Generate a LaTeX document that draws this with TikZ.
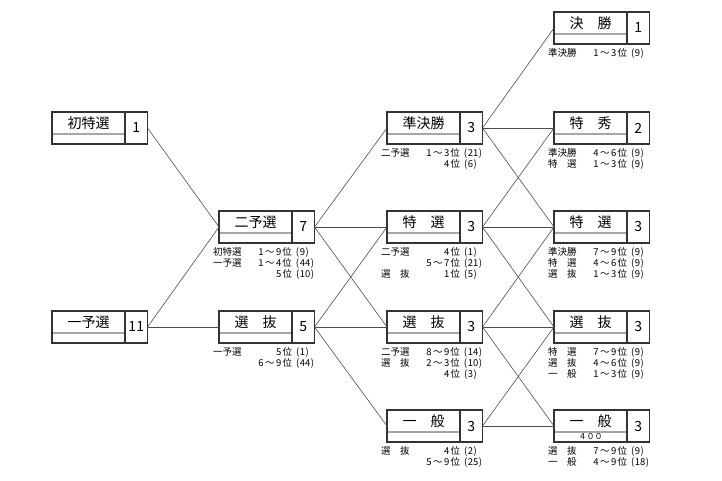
\documentclass[tikz,border=0pt]{standalone}
\usepackage{fontspec}
\setmainfont{Noto Sans CJK JP}
\usetikzlibrary{positioning}

\newcommand{\waku}[5]{%
  \node[namecell] (#1) at (#2,#3) {};
  \node[titletext] (#1-t) at ([yshift=-11pt]#1.north) {#4};
  \node[numcell, right=0pt of #1] (#1-n) {#5};
}
\newcommand{\kara}[2]{#1\kern1.5pt〜\kern1.5pt#2}
\newcommand{\jun}[3]{\makebox[27pt][l]{#1}\makebox[52pt][r]{#2\kern1pt 位}\hspace{4pt}(\kern0.6pt#3\kern0.6pt)}

\begin{document}
\begin{tikzpicture}[x=1pt, y=-1pt,
    every node/.style={inner sep=0pt, outer sep=0pt},
    namecell/.style={draw=black!80, line width=1.1pt, anchor=north west,
      minimum width=73pt, minimum height=32pt,
      path picture={\draw[black!35, line width=1.6pt]
        ([yshift=-22pt]path picture bounding box.north west) --
        ([yshift=-22pt]path picture bounding box.north east);}},
    numcell/.style={draw=black!80, line width=1.1pt, minimum width=22.5pt,
      minimum height=32pt, font=\fontsize{14}{14}\selectfont},
    titletext/.style={font=\fontsize{14}{14}\selectfont},
    lbl/.style={anchor=north west, align=left, font=\fontsize{9.5}{9.7}\selectfont},
    conn/.style={black!70, line width=0.6pt}]
  \useasboundingbox (0,0) rectangle (722,480);

  \waku{shotoku}{52}{112}{初特選}{1}
  \waku{ichiyo}{52}{311}{一予選}{11}
  \waku{niyo}{219}{211}{二予選}{7}
  \waku{senbatsu2}{219}{311}{選　抜}{5}
  \waku{junkessho}{387}{112}{準決勝}{3}
  \waku{tokusen3}{387}{211}{特　選}{3}
  \waku{senbatsu3}{387}{311}{選　抜}{3}
  \waku{ippan3}{387}{410}{一　般}{3}
  \waku{kessho}{554}{12}{決　勝}{1}
  \waku{tokushu}{554}{112}{特　秀}{2}
  \waku{tokusen4}{554}{211}{特　選}{3}
  \waku{senbatsu4}{554}{311}{選　抜}{3}
  \waku{ippan4}{554}{410}{一　般}{3}
  \node[font=\fontsize{8}{8}\selectfont] (ippan4-s) at ([yshift=-27pt]ippan4.north) {４００};

  \node[lbl] (niyo-l) at ([xshift=-6pt,yshift=-4.5pt]niyo.south west)
    {\jun{初特選}{\kara{1}{9}}{9}\\\jun{一予選}{\kara{1}{4}}{44}\\\jun{}{5}{10}};
  \node[lbl] (senbatsu2-l) at ([xshift=-6pt,yshift=-4.5pt]senbatsu2.south west)
    {\jun{一予選}{5}{1}\\\jun{}{\kara{6}{9}}{44}};
  \node[lbl] (junkessho-l) at ([xshift=-6pt,yshift=-4.5pt]junkessho.south west)
    {\jun{二予選}{\kara{1}{3}}{21}\\\jun{}{4}{6}};
  \node[lbl] (tokusen3-l) at ([xshift=-6pt,yshift=-4.5pt]tokusen3.south west)
    {\jun{二予選}{4}{1}\\\jun{}{\kara{5}{7}}{21}\\\jun{選　抜}{1}{5}};
  \node[lbl] (senbatsu3-l) at ([xshift=-6pt,yshift=-4.5pt]senbatsu3.south west)
    {\jun{二予選}{\kara{8}{9}}{14}\\\jun{選　抜}{\kara{2}{3}}{10}\\\jun{}{4}{3}};
  \node[lbl] (ippan3-l) at ([xshift=-6pt,yshift=-4.5pt]ippan3.south west)
    {\jun{選　抜}{4}{2}\\\jun{}{\kara{5}{9}}{25}};
  \node[lbl] (kessho-l) at ([xshift=-6pt,yshift=-4.5pt]kessho.south west)
    {\jun{準決勝}{\kara{1}{3}}{9}};
  \node[lbl] (tokushu-l) at ([xshift=-6pt,yshift=-4.5pt]tokushu.south west)
    {\jun{準決勝}{\kara{4}{6}}{9}\\\jun{特　選}{\kara{1}{3}}{9}};
  \node[lbl] (tokusen4-l) at ([xshift=-6pt,yshift=-4.5pt]tokusen4.south west)
    {\jun{準決勝}{\kara{7}{9}}{9}\\\jun{特　選}{\kara{4}{6}}{9}\\\jun{選　抜}{\kara{1}{3}}{9}};
  \node[lbl] (senbatsu4-l) at ([xshift=-6pt,yshift=-4.5pt]senbatsu4.south west)
    {\jun{特　選}{\kara{7}{9}}{9}\\\jun{選　抜}{\kara{4}{6}}{9}\\\jun{一　般}{\kara{1}{3}}{9}};
  \node[lbl] (ippan4-l) at ([xshift=-6pt,yshift=-4.5pt]ippan4.south west)
    {\jun{選　抜}{\kara{7}{9}}{9}\\\jun{一　般}{\kara{4}{9}}{18}};

  \foreach \a/\b in {shotoku/niyo, ichiyo/niyo, ichiyo/senbatsu2,
      niyo/junkessho, niyo/tokusen3, niyo/senbatsu3,
      senbatsu2/tokusen3, senbatsu2/senbatsu3, senbatsu2/ippan3,
      junkessho/kessho, junkessho/tokushu, junkessho/tokusen4,
      tokusen3/tokushu, tokusen3/tokusen4, tokusen3/senbatsu4,
      senbatsu3/tokusen4, senbatsu3/senbatsu4, senbatsu3/ippan4,
      ippan3/senbatsu4, ippan3/ippan4}
    \draw[conn] (\a-n.east) -- (\b.west);
\end{tikzpicture}
\end{document}
